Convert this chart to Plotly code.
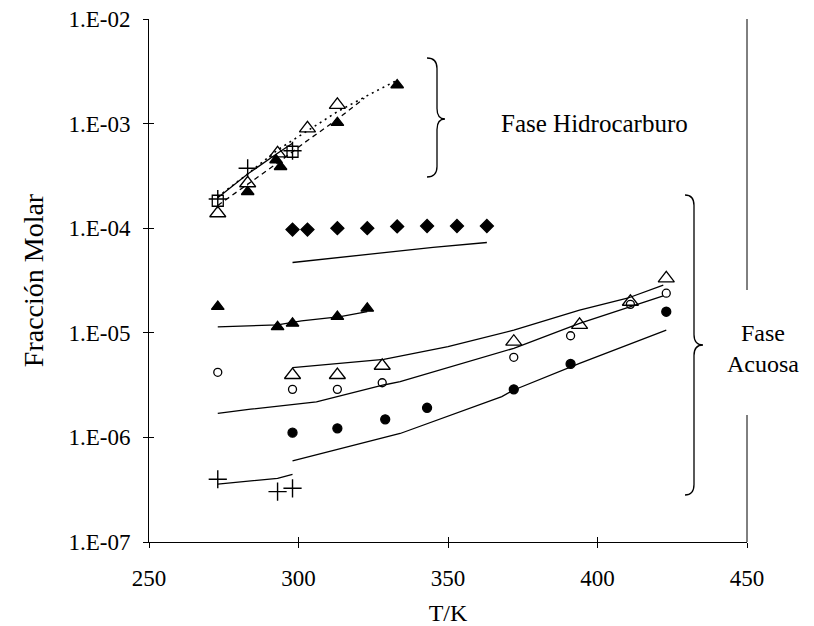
import plotly.graph_objects as go

# ---------------- data ----------------
# Hydrocarbon phase
hc_plus_T = [273, 283, 298]
hc_plus_x = [1.9e-4, 3.74e-4, 5.5e-4]
hc_sq_T = [273, 298]
hc_sq_x = [1.83e-4, 5.38e-4]
hc_otri_T = [273, 283, 293, 303, 313]
hc_otri_x = [1.39e-4, 2.69e-4, 5.2e-4, 9.0e-4, 1.51e-3]
hc_ftri_T = [283, 292.5, 294, 313, 333]
hc_ftri_x = [2.23e-4, 4.49e-4, 3.87e-4, 1.02e-3, 2.34e-3]
hc_solid_T = [273, 283, 293, 298]
hc_solid_x = [1.95e-4, 3.3e-4, 5.2e-4, 6.5e-4]
hc_dot_T = [273, 283, 293, 303, 313, 323, 333]
hc_dot_x = [2.0e-4, 3.3e-4, 5.6e-4, 8.6e-4, 1.3e-3, 1.85e-3, 2.6e-3]
hc_dash_T = [273, 283, 293, 303, 313, 322]
hc_dash_x = [1.65e-4, 2.65e-4, 4.2e-4, 6.9e-4, 1.1e-3, 1.75e-3]

# Aqueous phase
aq_dia_T = [298, 303, 313, 323, 333, 343, 353, 363]
aq_dia_x = [9.7e-5, 9.7e-5, 1.0e-4, 1.0e-4, 1.04e-4, 1.05e-4, 1.05e-4, 1.05e-4]
aq_dia_line_T = [298, 306, 323, 345, 363]
aq_dia_line_x = [4.7e-5, 4.97e-5, 5.55e-5, 6.56e-5, 7.3e-5]
aq_ftri_T = [273, 293, 298, 313, 323]
aq_ftri_x = [1.78e-5, 1.14e-5, 1.23e-5, 1.43e-5, 1.71e-5]
aq_ftri_line_T = [273, 293, 301, 314, 323]
aq_ftri_line_x = [1.14e-5, 1.19e-5, 1.30e-5, 1.43e-5, 1.59e-5]
aq_ocir_T = [273, 298, 313, 328, 372, 391, 411, 423]
aq_ocir_x = [4.19e-6, 2.88e-6, 2.88e-6, 3.33e-6, 5.83e-6, 9.37e-6, 1.87e-5, 2.39e-5]
aq_ocir_line_T = [273, 284, 306, 328.5, 334, 367.6, 372, 394, 422]
aq_ocir_line_x = [1.70e-6, 1.86e-6, 2.19e-6, 3.17e-6, 3.41e-6, 6.59e-6, 7.11e-6, 1.23e-5, 2.25e-5]
aq_otri_T = [298, 313, 328, 372, 394, 411, 423]
aq_otri_x = [3.95e-6, 3.95e-6, 4.84e-6, 8.22e-6, 1.19e-5, 1.98e-5, 3.32e-5]
aq_otri_line_T = [298, 328.5, 350, 372, 394, 410, 422]
aq_otri_line_x = [4.64e-6, 5.58e-6, 7.36e-6, 1.06e-5, 1.65e-5, 2.14e-5, 2.86e-5]
aq_fcir_T = [298, 313, 329, 343, 372, 391, 423]
aq_fcir_x = [1.11e-6, 1.22e-6, 1.49e-6, 1.92e-6, 2.88e-6, 5.04e-6, 1.59e-5]
aq_fcir_line_T = [298, 327, 334, 368, 372, 394, 423]
aq_fcir_line_x = [5.98e-7, 9.6e-7, 1.09e-6, 2.45e-6, 2.84e-6, 5.1e-6, 1.06e-5]
aq_plus_T = [273, 293, 298]
aq_plus_x = [3.98e-7, 3.03e-7, 3.26e-7]
aq_plus_line_T = [273, 293, 298]
aq_plus_line_x = [3.58e-7, 4.06e-7, 4.44e-7]

x_ticks = [250, 300, 350, 400, 450]
y_ticks = [1e-7, 1e-6, 1e-5, 1e-4, 1e-3, 1e-2]
y_ticktext = ["1.E-07", "1.E-06", "1.E-05", "1.E-04", "1.E-03", "1.E-02"]

FONT = "Liberation Serif, Times New Roman, serif"
BLACK = "#000000"

fig = go.Figure()


def line(T, x, dash="solid", width=1.3):
    fig.add_trace(go.Scatter(x=T, y=x, mode="lines", line=dict(color=BLACK, width=width, dash=dash),
                             hoverinfo="skip", showlegend=False))


def pts(T, x, symbol, size, lw=1.3):
    fig.add_trace(go.Scatter(x=T, y=x, mode="markers",
                             marker=dict(symbol=symbol, size=size, color=BLACK,
                                         line=dict(color=BLACK, width=lw)),
                             showlegend=False))


# lines
line(hc_solid_T, hc_solid_x)
line(hc_dot_T, hc_dot_x, dash="2px,4px", width=1.6)
line(hc_dash_T, hc_dash_x, dash="5px,4px", width=1.3)
line(aq_dia_line_T, aq_dia_line_x)
line(aq_ftri_line_T, aq_ftri_line_x)
line(aq_ocir_line_T, aq_ocir_line_x)
line(aq_otri_line_T, aq_otri_line_x)
line(aq_fcir_line_T, aq_fcir_line_x)
line(aq_plus_line_T, aq_plus_line_x)

# markers
pts(hc_sq_T, hc_sq_x, "square-open", 11)
pts(hc_plus_T, hc_plus_x, "cross-thin-open", 13, 1.4)
pts(hc_otri_T, hc_otri_x, "triangle-up-open", 14)
pts(hc_ftri_T, hc_ftri_x, "triangle-up", 11)
pts(aq_dia_T, aq_dia_x, "diamond", 10)
pts(aq_ftri_T, aq_ftri_x, "triangle-up", 11)
pts(aq_ocir_T, aq_ocir_x, "circle-open", 8)
pts(aq_otri_T, aq_otri_x, "triangle-up-open", 14)
pts(aq_fcir_T, aq_fcir_x, "circle", 9)
pts(aq_plus_T, aq_plus_x, "cross-thin-open", 13, 1.4)

# invisible trace on overlay axes (for inner half of cross ticks)
fig.add_trace(go.Scatter(x=[None], y=[None], xaxis="x2", yaxis="y2", showlegend=False, hoverinfo="skip"))

L, R, T_, B = 149, 67, 19, 84
W, H = 814, 626
pw, ph = W - L - R, H - T_ - B


def px(xp):
    return (xp - L) / pw


def py(yp):
    return (H - B - yp) / ph


def brace(x0, xm, xt, yt, ymid, yb, r=0.018):
    # right-facing curly brace in paper coords
    return (f"M {x0},{yt} Q {xm},{yt} {xm},{yt - r} L {xm},{ymid + r} Q {xm},{ymid} {xt},{ymid} "
            f"Q {xm},{ymid} {xm},{ymid - r} L {xm},{yb + r} Q {xm},{yb} {x0},{yb}")


shapes = [
    dict(type="path", xref="paper", yref="paper",
         path=brace(px(427), px(437), px(445), py(58), py(119), py(177), r=0.02),
         line=dict(color=BLACK, width=1.3)),
    dict(type="path", xref="paper", yref="paper",
         path=brace(px(685), px(694), px(703), py(195), py(345), py(495), r=0.02),
         line=dict(color=BLACK, width=1.3)),
    # right border of plot area (interrupted by label)
    dict(type="line", xref="paper", yref="paper", x0=1, x1=1, y0=1, y1=py(290),
         line=dict(color=BLACK, width=1)),
    dict(type="line", xref="paper", yref="paper", x0=1, x1=1, y0=py(415), y1=0,
         line=dict(color=BLACK, width=1)),
]

annotations = [
    dict(text="Fase Hidrocarburo", x=px(594), y=py(123), xref="paper", yref="paper",
         xanchor="center", yanchor="middle",
         showarrow=False, font=dict(family=FONT, size=25, color=BLACK)),
    dict(text="Fase<br>Acuosa", x=px(763), y=py(348), xref="paper", yref="paper",
         xanchor="center", yanchor="middle",
         showarrow=False, font=dict(family=FONT, size=24, color=BLACK), align="center"),
]

fig.update_layout(
    width=W, height=H,
    margin=dict(l=L, r=R, t=T_, b=B),
    paper_bgcolor="white", plot_bgcolor="white",
    font=dict(family=FONT, size=23, color=BLACK),
    showlegend=False,
    xaxis=dict(range=[250, 450], tickvals=x_ticks, ticks="outside", ticklen=5, tickwidth=1,
               tickcolor=BLACK, showline=True, linecolor=BLACK, linewidth=1, showgrid=False,
               zeroline=False, tickfont=dict(family=FONT, size=23), ticklabelstandoff=10,
               automargin=False,
               title=dict(text="T/K", font=dict(family=FONT, size=24), standoff=14)),
    yaxis=dict(type="log", range=[-7, -2], tickvals=y_ticks, ticktext=y_ticktext, ticks="outside",
               ticklen=5, tickwidth=1, tickcolor=BLACK, showline=True, linecolor=BLACK, linewidth=1,
               showgrid=False, zeroline=False, tickfont=dict(family=FONT, size=23), ticklabelstandoff=8,
               automargin=False,
               title=dict(text="Fracción Molar", font=dict(family=FONT, size=28), standoff=16)),
    xaxis2=dict(overlaying="x", range=[250, 450], tickvals=x_ticks, ticks="inside", ticklen=5,
                tickcolor=BLACK, showticklabels=False, showline=False, showgrid=False, zeroline=False,
                side="bottom", anchor="y", automargin=False),
    yaxis2=dict(overlaying="y", type="log", range=[-7, -2], tickvals=y_ticks, ticks="inside", ticklen=5,
                tickcolor=BLACK, showticklabels=False, showline=False, showgrid=False, zeroline=False,
                side="left", anchor="x", automargin=False),
    shapes=shapes,
    annotations=annotations,
)

fig.write_html("out.html")
